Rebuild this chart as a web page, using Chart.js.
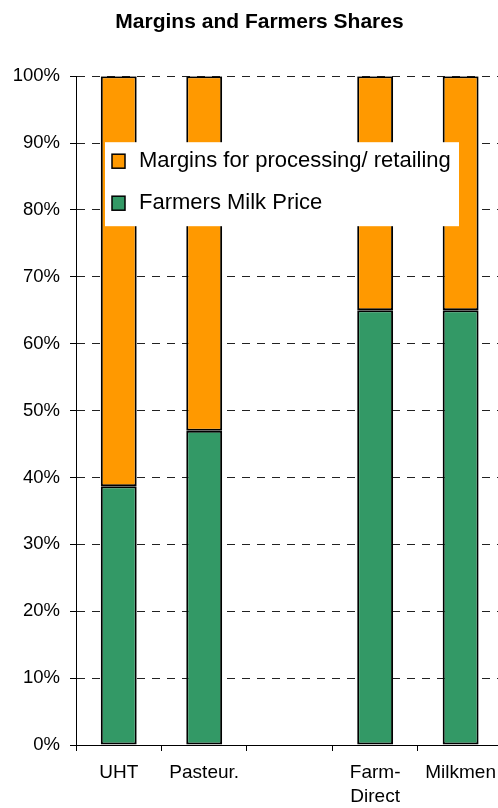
<!DOCTYPE html>
<html>
<head>
<meta charset="utf-8">
<script src="https://cdn.jsdelivr.net/npm/chart.js@4/dist/chart.umd.min.js"></script>
<style>
  html, body { margin: 0; padding: 0; background: #fff; overflow: hidden; }
  #wrap { width: 505px; height: 808px; }
</style>
</head>
<body>
<div id="wrap"><canvas id="c"></canvas></div>
<script>
var categories = ["UHT", "Pasteur.", "", ["Farm-", "Direct"], "Milkmen"];
var farmersPrice = [38.7, 47, null, 65, 65];
var margins = [61.3, 53, null, 35, 35];
var yTicks = [0, 10, 20, 30, 40, 50, 60, 70, 80, 90, 100];

var FONT = "'Liberation Sans', Arial, sans-serif";

// legend drawn inside the plot, on a white box, like the original
var boxLegend = {
	id: 'boxLegend',
	afterDatasetsDraw: function(chart) {
		var ctx = chart.ctx;
		var a = chart.chartArea;
		var x = a.left + 29, y = a.top + 66;
		ctx.save();
		ctx.fillStyle = '#fff';
		ctx.fillRect(x, y, 354, 84);
		var items = chart.data.datasets.slice().reverse();
		ctx.font = '22px ' + FONT;
		ctx.textBaseline = 'middle';
		items.forEach(function(ds, i) {
			var cy = y + 19 + i * 42;
			ctx.fillStyle = ds.backgroundColor;
			ctx.fillRect(x + 7, cy - 7, 13, 14);
			ctx.lineWidth = 1.5;
			ctx.strokeStyle = '#000';
			ctx.strokeRect(x + 7, cy - 7, 13, 14);
			ctx.fillStyle = '#000';
			ctx.fillText(ds.label, x + 34, cy);
		});
		ctx.restore();
	}
};

var config = {
	type: 'bar',
	data: {
		labels: categories,
		datasets: [
			{
				label: "Farmers Milk Price",
				data: farmersPrice,
				backgroundColor: "#339966",
				borderColor: "#000",
				borderWidth: 2,
				borderSkipped: false,
				categoryPercentage: 1,
				barPercentage: 0.42
			},
			{
				label: "Margins for processing/ retailing",
				data: margins,
				backgroundColor: "#FF9900",
				borderColor: "#000",
				borderWidth: 2,
				borderSkipped: false,
				categoryPercentage: 1,
				barPercentage: 0.42
			}
		]
	},
	options: {
		responsive: true,
		maintainAspectRatio: false,
		animation: false,
		layout: { padding: { left: 14, right: 0, top: 0, bottom: 0 } },
		plugins: {
			legend: { display: false },
			tooltip: { enabled: false },
			title: {
				display: true,
				text: "Margins and Farmers Shares",
				color: '#000',
				font: { family: FONT, size: 21, weight: 'bold' },
				padding: { top: 10, bottom: 41 }
			}
		},
		scales: {
			x: {
				stacked: true,
				grid: {
					offset: true,
					drawOnChartArea: false,
					tickLength: 6,
					tickColor: '#000',
					tickWidth: 1
				},
				border: { color: '#000', width: 1 },
				ticks: {
					color: '#000',
					autoSkip: false,
					maxRotation: 0,
					padding: 9,
					font: { family: FONT, size: 19, lineHeight: 1.3 }
				},
				afterFit: function(s) { s.height = 63; }
			},
			y: {
				stacked: true,
				min: 0,
				max: 100,
				afterBuildTicks: function(s) {
					s.ticks = yTicks.map(function(v) { return { value: v }; });
				},
				grid: {
					color: function(c) { return c.tick && c.tick.value === 0 ? 'rgba(0,0,0,0)' : '#222'; },
					tickColor: '#000',
					tickLength: 6,
					lineWidth: 1
				},
				border: { color: '#000', width: 1, dash: [8, 7] },
				ticks: {
					color: '#000',
					padding: 10,
					font: { family: FONT, size: 18.5 },
					callback: function(v) { return v + '%'; }
				},
				afterFit: function(s) { s.width = 62; }
			}
		}
	},
	plugins: [boxLegend]
};

var myChart = new Chart(document.getElementById('c'), config);
</script>
</body>
</html>
